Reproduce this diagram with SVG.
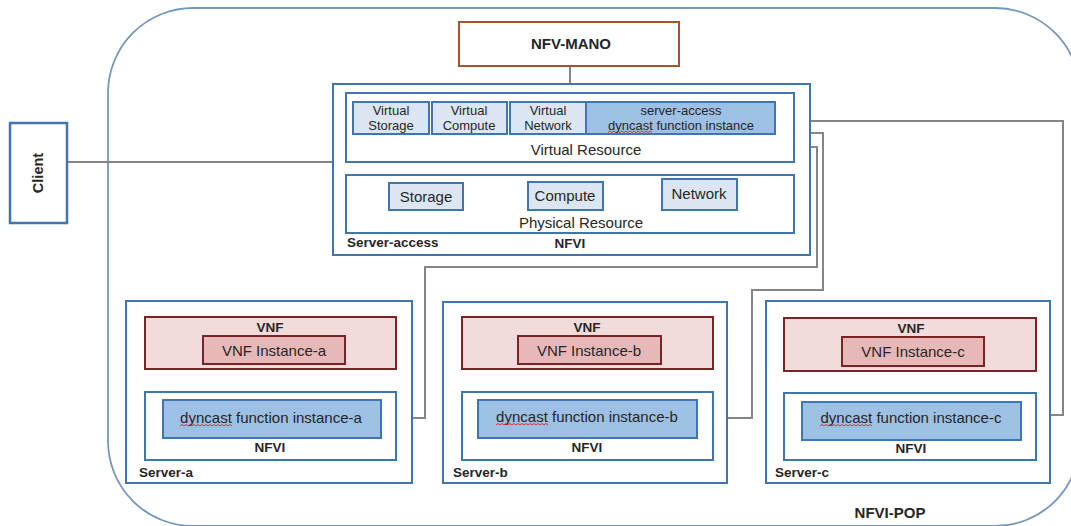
<svg xmlns="http://www.w3.org/2000/svg" width="1071" height="526" viewBox="0 0 1071 526">
  <defs>
    <style>
      text { font-family: "Liberation Sans", Arial, sans-serif; fill: #262626; }
      .t { font-size: 15px; }
      .s { font-size: 13px; }
      .c { text-anchor: middle; }
      .b { font-weight: bold; font-size: 13.5px; }
      .box { fill: #ffffff; stroke: #3F76B1; stroke-width: 2; }
      .lt { fill: #DCE6F2; stroke: #3F76B1; stroke-width: 2; }
      .dk { fill: #9DC0E4; stroke: #3F76B1; stroke-width: 2; }
      .vnf { fill: #F2DCDB; stroke: #7A2424; stroke-width: 2; }
      .vi { fill: #E6B9B8; stroke: #7A2424; stroke-width: 2; }
      .wire { fill: none; stroke: #858585; stroke-width: 2; }
      .sq { fill: none; stroke: #E03030; stroke-width: 1; }
    </style>
    <!-- red wavy underline, 52px long -->
    <path id="wave" d="M0,0 l2,-1.5 l2,1.5 l2,-1.5 l2,1.5 l2,-1.5 l2,1.5 l2,-1.5 l2,1.5 l2,-1.5 l2,1.5 l2,-1.5 l2,1.5 l2,-1.5 l2,1.5 l2,-1.5 l2,1.5 l2,-1.5 l2,1.5 l2,-1.5 l2,1.5 l2,-1.5 l2,1.5 l2,-1.5 l2,1.5 l2,-1.5 l2,1.5"/>
    <!-- shorter wave for the smaller label -->
    <path id="wave-s" d="M0,0 l2,-1.5 l2,1.5 l2,-1.5 l2,1.5 l2,-1.5 l2,1.5 l2,-1.5 l2,1.5 l2,-1.5 l2,1.5 l2,-1.5 l2,1.5 l2,-1.5 l2,1.5 l2,-1.5 l2,1.5 l2,-1.5 l2,1.5 l2,-1.5 l2,1.5 l2,-1.5 l2,1.5"/>
  </defs>

  <!-- point of presence boundary -->
  <g id="nfvi-pop">
    <rect x="108" y="8" width="972" height="518" rx="85" ry="85" fill="none" stroke="#7497BD" stroke-width="1.8"/>
    <text class="b c" x="890" y="518" style="font-size:15px">NFVI-POP</text>
  </g>

  <!-- connectors -->
  <g id="connectors">
    <line class="wire" x1="570" y1="66" x2="570" y2="84"/>
    <line class="wire" x1="67" y1="162" x2="333" y2="162"/>
    <line class="wire" x1="577" y1="162" x2="577" y2="175"/>
    <line class="wire" x1="265" y1="369" x2="265" y2="392"/>
    <line class="wire" x1="582" y1="369" x2="582" y2="392"/>
    <line class="wire" x1="905" y1="371" x2="905" y2="393"/>
    <polyline class="wire" points="412,418 425,418 425,267 817,267 817,147 810,147"/>
    <polyline class="wire" points="727,418 752,418 752,290 823,290 823,133 810,133"/>
    <polyline class="wire" points="1050,415 1063,415 1063,121 810,121"/>
  </g>

  <g id="nfv-mano">
    <rect x="459" y="22" width="220" height="44" fill="#ffffff" stroke="#A9532B" stroke-width="2"/>
    <text class="b c" x="571" y="49" style="font-size:15px">NFV-MANO</text>
  </g>

  <g id="client">
    <rect x="10" y="123" width="57" height="100" fill="#ffffff" stroke="#3F76B1" stroke-width="2.5"/>
    <text class="b c" transform="translate(43,173) rotate(-90)" style="font-size:14.5px">Client</text>
  </g>

  <g id="server-access">
    <rect class="box" x="333" y="84" width="477" height="171"/>
    <rect class="box" x="346" y="93" width="448" height="69"/>
    <rect class="lt" x="353" y="102" width="76" height="32"/>
    <text class="s c" x="391" y="115">Virtual</text>
    <text class="s c" x="391" y="130">Storage</text>
    <rect class="lt" x="432" y="102" width="75" height="32"/>
    <text class="s c" x="469" y="115">Virtual</text>
    <text class="s c" x="469" y="130">Compute</text>
    <rect class="lt" x="510" y="102" width="76" height="32"/>
    <text class="s c" x="548" y="114.5">Virtual</text>
    <text class="s c" x="548" y="129.5">Network</text>
    <rect class="dk" x="586" y="102" width="189" height="32"/>
    <text class="s c" x="681" y="114.5">server-access</text>
    <text class="s c" x="681" y="129.5">dyncast function instance</text>
    <use href="#wave-s" class="sq" x="608" y="132.5"/>
    <text class="t c" x="586" y="155">Virtual Resource</text>

    <rect class="box" x="346" y="175" width="448" height="58"/>
    <rect class="lt" x="389" y="183" width="74" height="27"/>
    <text class="t c" x="426" y="202">Storage</text>
    <rect class="lt" x="528" y="182" width="75" height="28"/>
    <text class="t c" x="565" y="201">Compute</text>
    <rect class="lt" x="662" y="179" width="75" height="31"/>
    <text class="t c" x="699" y="199">Network</text>
    <text class="t c" x="581" y="228">Physical Resource</text>

    <text class="b" x="347" y="247">Server-access</text>
    <text class="b c" x="570" y="248">NFVI</text>
  </g>

  <g id="server-a">
    <rect class="box" x="126" y="301" width="286" height="182"/>
    <rect class="vnf" x="145" y="317" width="251" height="52"/>
    <text class="b c" x="270" y="332">VNF</text>
    <rect class="vi" x="203" y="336" width="142" height="28"/>
    <text class="t c" x="274" y="356">VNF Instance-a</text>
    <rect class="box" x="145" y="392" width="251" height="68"/>
    <rect class="dk" x="163" y="400" width="218" height="38"/>
    <text class="t c" x="271" y="423">dyncast function instance-a</text>
    <use href="#wave" class="sq" x="180" y="426"/>
    <text class="b c" x="270" y="452">NFVI</text>
    <text class="b" x="139" y="477">Server-a</text>
  </g>

  <g id="server-b">
    <rect class="box" x="443" y="302" width="284" height="181"/>
    <rect class="vnf" x="462" y="317" width="251" height="52"/>
    <text class="b c" x="587" y="332">VNF</text>
    <rect class="vi" x="518" y="336" width="143" height="28"/>
    <text class="t c" x="589" y="356">VNF Instance-b</text>
    <rect class="box" x="462" y="392" width="251" height="68"/>
    <rect class="dk" x="478" y="400" width="219" height="38"/>
    <text class="t c" x="587" y="422">dyncast function instance-b</text>
    <use href="#wave" class="sq" x="496" y="425"/>
    <text class="b c" x="587" y="452">NFVI</text>
    <text class="b" x="453" y="477">Server-b</text>
  </g>

  <g id="server-c">
    <rect class="box" x="766" y="301" width="284" height="182"/>
    <rect class="vnf" x="784" y="318" width="252" height="53"/>
    <text class="b c" x="911" y="333">VNF</text>
    <rect class="vi" x="842" y="337" width="142" height="29"/>
    <text class="t c" x="913" y="357">VNF Instance-c</text>
    <rect class="box" x="784" y="393" width="252" height="67"/>
    <rect class="dk" x="802" y="402" width="219" height="38"/>
    <text class="t c" x="911" y="423">dyncast function instance-c</text>
    <use href="#wave" class="sq" x="820" y="426"/>
    <text class="b c" x="911" y="453">NFVI</text>
    <text class="b" x="775" y="477">Server-c</text>
  </g>
</svg>
